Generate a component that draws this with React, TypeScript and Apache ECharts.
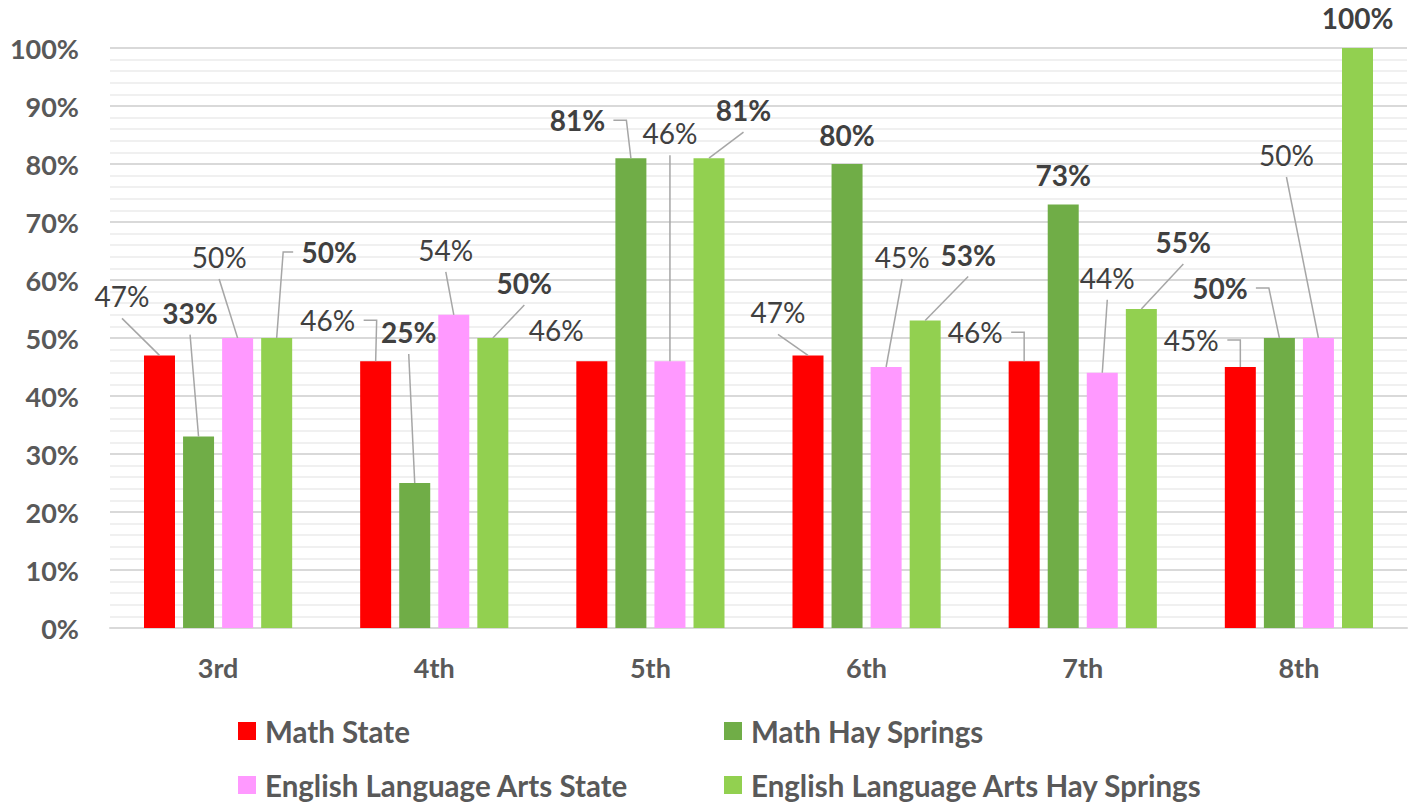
import React, { useEffect, useRef } from "react";
import * as echarts from "echarts";

// ---- data ----
const categories = ["3rd", "4th", "5th", "6th", "7th", "8th"];
const seriesNames = [
  "Math State",
  "Math Hay Springs",
  "English Language Arts State",
  "English Language Arts Hay Springs",
];
const mathState = [47, 46, 46, 47, 46, 45];
const mathHaySprings = [33, 25, 81, 80, 73, 50];
const elaState = [50, 54, 46, 45, 44, 50];
const elaHaySprings = [50, 50, 81, 53, 55, 100];
const seriesValues = [mathState, mathHaySprings, elaState, elaHaySprings];

// ---- styling ----
const seriesColors = ["#ff0000", "#70ad47", "#ff99ff", "#92d050"];
const boldLabels = [false, true, false, true];
const FONT = "Lato";
const BAR_W = 31;
const BAR_GAP = 0.26;
const BAR_STEP = BAR_W * (1 + BAR_GAP);

// label offsets (px) from the bar-top centre: [dx, dy]
const labelOffsets = [
  [[-37.5, -59], [-48, -41], [-35.5, -31], [-30, -43], [-49, -29], [-49, -27]],
  [[-8.5, -124], [-6, -151], [-53.5, -38], [0, -29], [0, -30], [-59.5, -50]],
  [[-18.5, -81], [-8, -65], [0, -228], [16, -110], [5, -95], [-32, -183]],
  [[52.5, -86], [31.5, -55], [34.5, -48], [43, -66], [42, -67], [0, -30]],
];
// leader line kind: 0 none, 1 straight from below label, 2 elbow right, 3 elbow left
const leaderKinds = [
  [1, 2, 0, 1, 2, 2],
  [1, 1, 2, 0, 0, 2],
  [1, 1, 1, 1, 1, 1],
  [3, 1, 1, 1, 1, 0],
];

export default function App() {
  const ref = useRef<HTMLDivElement>(null);

  useEffect(() => {
    if (!ref.current) return;
    const chart = echarts.init(ref.current, undefined, { renderer: "svg" });

    const barSeries = seriesNames.map((name, s) => ({
      name,
      type: "bar",
      data: seriesValues[s],
      barWidth: BAR_W,
      barGap: `${BAR_GAP * 100}%`,
      itemStyle: { color: seriesColors[s] },
      emphasis: { disabled: true },
      label: {
        show: true,
        position: "top",
        formatter: "{c}%",
        fontFamily: FONT,
        fontSize: 28,
        fontWeight: boldLabels[s] ? "bold" : "normal",
        color: "#404040",
      },
      labelLayout: (params: any) => {
        const off = labelOffsets[s][params.dataIndex];
        return {
          x: params.rect.x + params.rect.width / 2 + off[0],
          y: params.rect.y + off[1],
          align: "center",
          verticalAlign: "middle",
        };
      },
      z: 2,
    }));

    const leaderData: number[][] = [];
    seriesValues.forEach((vals, s) => {
      vals.forEach((v, i) => leaderData.push([i, v, s]));
    });

    const leaderSeries = {
      name: "leaders",
      type: "custom",
      coordinateSystem: "cartesian2d",
      clip: false,
      silent: true,
      z: 3,
      encode: { x: 0, y: 1 },
      data: leaderData,
      renderItem: (_params: any, api: any) => {
        const cat = api.value(0);
        const val = api.value(1);
        const s = api.value(2);
        const kind = leaderKinds[s][cat];
        if (!kind) return { type: "group", children: [] };
        const p = api.coord([cat, val]);
        const bx = p[0] + (s - 1.5) * BAR_STEP;
        const by = p[1];
        const off = labelOffsets[s][cat];
        const lx = bx + off[0];
        const ly = by + off[1];
        let pts: number[][];
        if (kind === 1) {
          pts = [[lx, ly + 22], [bx, by]];
        } else if (kind === 2) {
          pts = [[lx + 36, ly], [lx + 49, ly], [bx, by]];
        } else {
          pts = [[lx - 36, ly], [lx - 46, ly], [bx, by]];
        }
        return {
          type: "polyline",
          shape: { points: pts },
          style: { stroke: "#a6a6a6", lineWidth: 1.5, fill: null },
          silent: true,
        };
      },
    };

    const legendBase = {
      orient: "horizontal",
      padding: 0,
      itemWidth: 18,
      itemHeight: 18,
      icon: "rect",
      selectedMode: false,
      textStyle: {
        fontFamily: FONT,
        fontSize: 29.5,
        fontWeight: "bold",
        color: "#595959",
        padding: [0, 0, 0, 4],
      },
    };

    chart.setOption({
      animation: false,
      backgroundColor: "#ffffff",
      textStyle: { fontFamily: FONT },
      grid: { left: 110, right: 14, top: 48, bottom: 176, containLabel: false },
      legend: [
        { ...legendBase, data: [seriesNames[0]], left: 238, top: 716 },
        { ...legendBase, data: [seriesNames[1]], left: 724, top: 716 },
        { ...legendBase, data: [seriesNames[2]], left: 238, top: 770 },
        { ...legendBase, data: [seriesNames[3]], left: 724, top: 770 },
      ],
      xAxis: {
        type: "category",
        data: categories,
        axisTick: { show: false },
        axisLine: { lineStyle: { color: "#d9d9d9", width: 2 } },
        axisLabel: {
          fontFamily: FONT,
          fontSize: 27,
          fontWeight: "bold",
          color: "#595959",
          margin: 26,
        },
      },
      yAxis: {
        type: "value",
        min: 0,
        max: 100,
        interval: 10,
        axisLine: { show: false },
        axisTick: { show: false },
        axisLabel: {
          formatter: "{value}%",
          fontFamily: FONT,
          fontSize: 27,
          fontWeight: "bold",
          color: "#595959",
          margin: 31,
        },
        splitLine: { lineStyle: { color: "#d9d9d9", width: 2 } },
        minorTick: { show: false, splitNumber: 5 },
        minorSplitLine: { show: true, lineStyle: { color: "#f0f0f0", width: 2 } },
      },
      series: [...barSeries, leaderSeries],
    });

    return () => chart.dispose();
  }, []);

  return (
    <div
      ref={ref}
      style={{ position: "fixed", left: 0, top: 0, width: 1421, height: 804 }}
    />
  );
}
